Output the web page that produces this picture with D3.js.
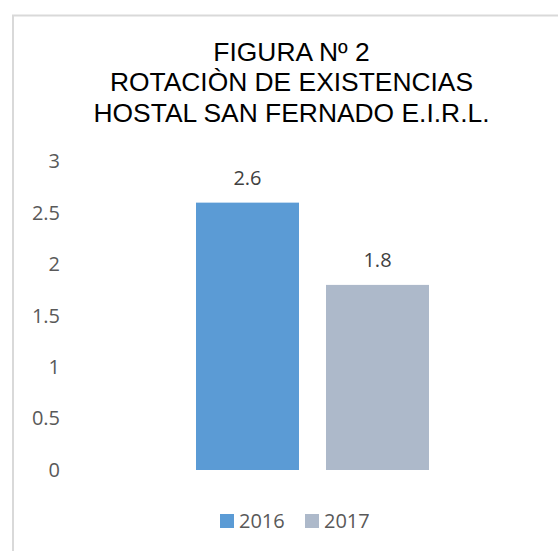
<!DOCTYPE html>
<html>
<head>
<meta charset="utf-8">
<script src="https://cdn.jsdelivr.net/npm/d3@7"></script>
<style>
  body { margin: 0; background: #fff; }
</style>
</head>
<body>
<div id="chart"></div>
<script>
// Data
var years = ["2016", "2017"];
var values = [2.6, 1.8];
var colors = ["#5b9bd5", "#adb9ca"];
var yTicks = [0, 0.5, 1, 1.5, 2, 2.5, 3];
var titleLines = ["FIGURA Nº 2", "ROTACIÒN DE EXISTENCIAS", "HOSTAL SAN FERNADO E.I.R.L."];

var w = 558, h = 551;
var labelFont = "'Open Sans', sans-serif";

var svg = d3.select("#chart")
  .append("svg")
    .attr("width", w)
    .attr("height", h);

// Chart frame (right and bottom edges fall outside the picture)
svg.append("rect")
  .attr("x", 13)
  .attr("y", 15.5)
  .attr("width", 600)
  .attr("height", 600)
  .attr("fill", "#fff")
  .attr("stroke", "#d9d9d9")
  .attr("stroke-width", 2);

// Title
svg.append("g").selectAll("text").data(titleLines).enter().append("text")
  .attr("x", 291.5)
  .attr("y", function(d, i) { return 61 + i * 30.3; })
  .attr("text-anchor", "middle")
  .attr("font-family", "'Liberation Sans', Arial, sans-serif")
  .attr("font-size", 26.4)
  .attr("fill", "#000")
  .text(function(d) { return d; });

// Scales
var yScale = d3.scaleLinear().domain([0, 3]).range([470, 161.5]);
var xScale = d3.scaleBand().domain(years).range([196, 429]).paddingInner(0.2077).paddingOuter(0);

// Y axis (labels only)
var yAxis = d3.axisLeft(yScale).tickValues(yTicks).tickSize(0).tickPadding(0)
  .tickFormat(function(d) { return String(d); });

var gy = svg.append("g")
  .attr("transform", "translate(60,0)")
  .call(yAxis);
gy.select(".domain").remove();
gy.selectAll("text")
  .attr("font-family", labelFont)
  .attr("font-size", 20)
  .attr("fill", "#595959");

// Bars
svg.selectAll("rect.bar").data(values).enter().append("rect")
  .attr("class", "bar")
  .attr("x", function(d, i) { return xScale(years[i]); })
  .attr("y", function(d) { return yScale(d); })
  .attr("width", xScale.bandwidth())
  .attr("height", function(d) { return yScale(0) - yScale(d); })
  .attr("fill", function(d, i) { return colors[i]; });

// Value labels
svg.selectAll("text.val").data(values).enter().append("text")
  .attr("class", "val")
  .attr("x", function(d, i) { return xScale(years[i]) + xScale.bandwidth() / 2; })
  .attr("y", function(d) { return yScale(d) - 18; })
  .attr("text-anchor", "middle")
  .attr("font-family", labelFont)
  .attr("font-size", 20)
  .attr("fill", "#404040")
  .text(function(d) { return d; });

// Legend
var legendX = d3.scaleOrdinal().domain(years).range([220, 305]);
var legend = svg.append("g").selectAll("g").data(years).enter().append("g")
  .attr("transform", function(d) { return "translate(" + legendX(d) + ",514)"; });
legend.append("rect")
  .attr("width", 14)
  .attr("height", 14)
  .attr("fill", function(d, i) { return colors[i]; });
legend.append("text")
  .attr("x", 19)
  .attr("y", 7)
  .attr("dy", "0.35em")
  .attr("font-family", labelFont)
  .attr("font-size", 20)
  .attr("fill", "#595959")
  .text(function(d) { return d; });
</script>
</body>
</html>
